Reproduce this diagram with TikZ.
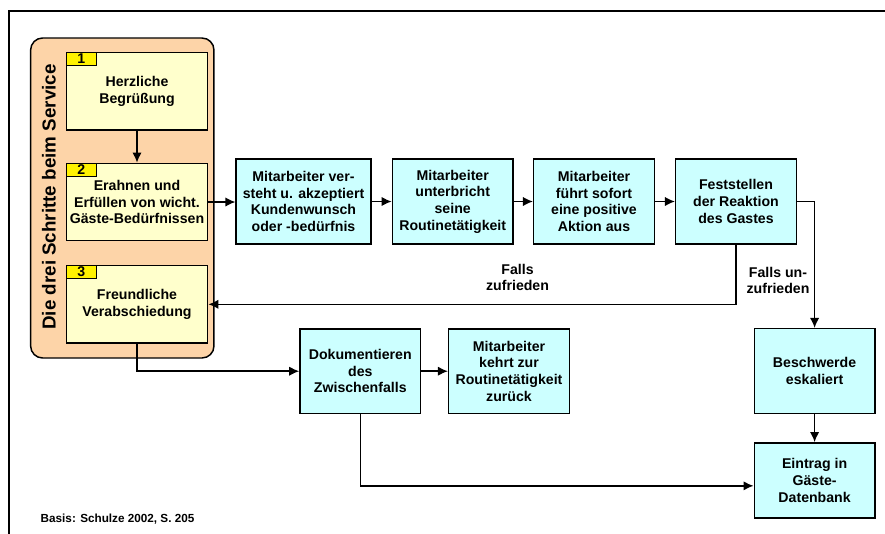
\documentclass[tikz,border=0pt]{standalone}
\usepackage{fontspec}
\setmainfont{Liberation Sans}
\usetikzlibrary{arrows.meta}

\definecolor{peach}{RGB}{253,212,168}
\definecolor{paleyellow}{RGB}{255,255,204}
\definecolor{paleblue}{RGB}{204,255,255}

\begin{document}
\begin{tikzpicture}[x=0.75pt,y=-0.75pt,font=\bfseries\fontsize{10.6}{12.5}\selectfont,
 stepbox/.style={draw,line width=1.1pt,fill=paleyellow,align=center,minimum width=106pt,minimum height=58pt,inner sep=2pt},
 actbox/.style={draw,line width=1.1pt,fill=paleblue,align=center,minimum width=90.5pt,minimum height=63.5pt,inner sep=2pt},
 numtag/.style={draw,line width=0.9pt,fill=yellow,minimum width=22.5pt,minimum height=9.75pt,inner sep=0pt,anchor=north west},
 arr/.style={-{Latex[length=7.5pt,width=7pt]},line width=1.1pt}]
\useasboundingbox (0,0) rectangle (885,533);
\draw[line width=1.5pt] (9,540) -- (9,11) -- (890,11);
% the three service steps
\node[draw,line width=1.1pt,fill=peach,rounded corners=9pt,minimum width=137.5pt,minimum height=240pt] (panel) at (122.3,198) {};
\node[rotate=90,font=\bfseries\fontsize{14.1}{16}\selectfont] (title) at (49,197) {Die drei Schritte beim Service};
\node[stepbox] (s1) at (137,91.3) {Herzliche\\Begrüßung};
\node[stepbox] (s2) at (137,202) {Erahnen und\\Erfüllen von wicht.\\Gäste-Bedürfnissen};
\node[stepbox] (s3) at (137,304.3) {Freundliche\\Verabschiedung};
\node[numtag] (n1) at (s1.north west) {1};
\node[numtag] (n2) at (s2.north west) {2};
\node[numtag] (n3) at (s3.north west) {3};
% actions
\node[actbox,minimum width=101pt] (a1) at (303.5,201.5) {Mitarbeiter ver-\\steht u. akzeptiert\\Kundenwunsch\\oder -bedürfnis};
\node[actbox] (a2) at (452.7,201.5) {Mitarbeiter\\unterbricht\\seine\\Routinetätigkeit};
\node[actbox] (a3) at (594,201.5) {Mitarbeiter\\führt sofort\\eine positive\\Aktion aus};
\node[actbox] (a4) at (736,201.5) {Feststellen\\der Reaktion\\des Gastes};
\node[actbox] (esc) at (814.6,371) {Beschwerde\\eskaliert};
\node[actbox,minimum height=56.5pt] (entry) at (814.6,480.5) {Eintrag in\\Gäste-\\Datenbank};
\node[actbox] (dok) at (360.3,371.2) {Dokumentieren\\des\\Zwischenfalls};
\node[actbox] (back) at (509,371.2) {Mitarbeiter\\kehrt zur\\Routinetätigkeit\\zurück};
\draw[arr] (s1) -- (s2);
\draw[arr] (s2.east) -- (s2.east -| a1.west);
\draw[arr] (a1) -- (a2); \draw[arr] (a2) -- (a3); \draw[arr] (a3) -- (a4);
\draw[arr] (a4.east) -| node[pos=0.812,left,align=center]{Falls un-\\zufrieden} (esc);
\draw[arr] (a4.south) |- node[pos=0.707,above=6pt,align=center]{Falls\\zufrieden} (s3.east);
\draw[arr] (s3.south) |- (dok.west);
\draw[arr] (dok) -- (back);
\draw[arr] (esc) -- (entry);
\draw[arr] (dok.south) |- ([yshift=-4pt]entry.west);
\node[anchor=west,font=\bfseries\fontsize{8.8}{10}\selectfont] (src) at (36,519) {Basis: Schulze 2002, S. 205};
\end{tikzpicture}
\end{document}
